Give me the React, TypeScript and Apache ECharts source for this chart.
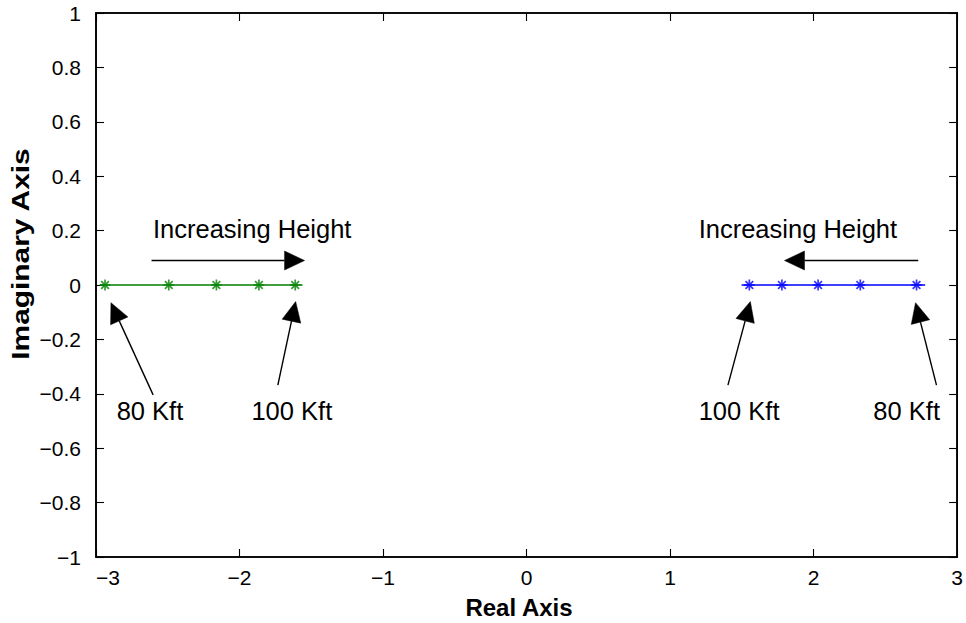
import React, { useEffect, useRef } from "react";
import * as echarts from "echarts";

// Axis ranges
const X_MIN = -3;
const X_MAX = 3;
const X_STEP = 1;
const Y_MIN = -1;
const Y_MAX = 1;
const Y_STEP = 0.2;

// Poles (real parts), imaginary part is zero
const greenPoles = [-2.937, -2.493, -2.161, -1.865, -1.612];
const bluePoles = [1.552, 1.779, 2.031, 2.325, 2.717];
const poleImag = 0;
// Extent of the traced loci lines
const greenTrace = [-2.972, -1.561];
const blueTrace = [1.498, 2.777];

// Annotation arrows: [tailRe, tailIm, tipRe, tipIm]
const arrowTailRe = [-2.613, 2.729, -2.602, -1.733, 1.403, 2.856];
const arrowTailIm = [0.09, 0.09, -0.404, -0.368, -0.368, -0.368];
const arrowTipRe = [-1.547, 1.797, -2.896, -1.609, 1.559, 2.71];
const arrowTipIm = [0.09, 0.09, -0.065, -0.061, -0.061, -0.065];

// Annotation texts (left anchored)
const annotationTexts = ["Increasing Height", "Increasing Height", "80 Kft", "100 Kft", "100 Kft", "80 Kft"];
const annotationRe = [-2.603, 1.199, -2.856, -1.917, 1.199, 2.416];
const annotationIm = [0.206, 0.206, -0.463, -0.463, -0.463, -0.463];

const FONT = "'Liberation Sans', Arial, Helvetica, sans-serif";
const ASTERISK = "path://M5,0 L5,10 M0,5 L10,5 M1.5,1.5 L8.5,8.5 M1.5,8.5 L8.5,1.5";

const fmt = (v: number) => {
  const r = Math.round(v * 10) / 10;
  return r < 0 ? "\u2212" + Math.abs(r) : String(r);
};

export default function App() {
  const ref = useRef<HTMLDivElement>(null);
  useEffect(() => {
    if (!ref.current) return;
    const chart = echarts.init(ref.current, null, { renderer: "svg" });

    const axisCommon = {
      type: "value" as const,
      axisLine: { show: true, onZero: false, lineStyle: { color: "#000", width: 1.6 } },
      axisTick: { show: true, inside: true, length: 8, lineStyle: { color: "#000", width: 1.1 } },
      splitLine: { show: false },
    };

    const arrows = arrowTailRe.map((_, i) => [arrowTailRe[i], arrowTailIm[i], arrowTipRe[i], arrowTipIm[i]]);
    const texts = annotationRe.map((_, i) => [annotationRe[i], annotationIm[i]]);

    chart.setOption({
      animation: false,
      backgroundColor: "#fff",
      grid: { left: 96, right: 7, top: 13, bottom: 66, show: true, borderColor: "#000", borderWidth: 1.6, backgroundColor: "transparent" },
      xAxis: [
        {
          ...axisCommon,
          min: X_MIN,
          max: X_MAX,
          interval: X_STEP,
          position: "bottom",
          axisLabel: { color: "#000", fontSize: 21, fontFamily: FONT, margin: 10, formatter: fmt, alignMinLabel: "left" },
        },
        {
          ...axisCommon,
          min: X_MIN,
          max: X_MAX,
          interval: X_STEP,
          position: "top",
          axisLabel: { show: false },
        },
      ],
      yAxis: [
        {
          ...axisCommon,
          min: Y_MIN,
          max: Y_MAX,
          interval: Y_STEP,
          position: "left",
          axisLabel: { color: "#000", fontSize: 21, fontFamily: FONT, margin: 15, formatter: fmt },
        },
        {
          ...axisCommon,
          min: Y_MIN,
          max: Y_MAX,
          interval: Y_STEP,
          position: "right",
          axisLabel: { show: false },
        },
      ],
      graphic: [
        {
          type: "text",
          x: 519,
          y: 607,
          style: { text: "Real Axis", fontSize: 24, fontWeight: "bold", fontFamily: FONT, fill: "#000", align: "center", verticalAlign: "middle" },
        },
        {
          type: "text",
          x: 21,
          y: 254,
          rotation: Math.PI / 2,
          scaleX: 1.3,
          style: { text: "Imaginary Axis", fontSize: 23, fontWeight: "bold", fontFamily: FONT, fill: "#000", align: "center", verticalAlign: "middle" },
        },
      ],
      series: [
        {
          type: "line",
          data: greenTrace.map((x) => [x, poleImag]),
          symbol: "none",
          lineStyle: { color: "#008000", width: 1.5 },
          silent: true,
        },
        {
          type: "line",
          data: blueTrace.map((x) => [x, poleImag]),
          symbol: "none",
          lineStyle: { color: "#0000ff", width: 1.5 },
          silent: true,
        },
        {
          type: "scatter",
          data: greenPoles.map((x) => [x, poleImag]),
          symbol: ASTERISK,
          symbolSize: 11,
          itemStyle: { color: "#008000", borderColor: "#008000", borderWidth: 1.7 },
        },
        {
          type: "scatter",
          data: bluePoles.map((x) => [x, poleImag]),
          symbol: ASTERISK,
          symbolSize: 11,
          itemStyle: { color: "#0000ff", borderColor: "#0000ff", borderWidth: 1.7 },
        },
        {
          type: "custom",
          data: arrows,
          encode: { x: [0, 2], y: [1, 3] },
          silent: true,
          renderItem: (params: any, api: any) => {
            const a = api.coord([api.value(0), api.value(1)]);
            const b = api.coord([api.value(2), api.value(3)]);
            const dx = b[0] - a[0];
            const dy = b[1] - a[1];
            const len = Math.hypot(dx, dy);
            const ux = dx / len;
            const uy = dy / len;
            const L = 20;
            const W = 9.5;
            const bx = b[0] - ux * L;
            const by = b[1] - uy * L;
            return {
              type: "group",
              children: [
                { type: "line", shape: { x1: a[0], y1: a[1], x2: bx, y2: by }, style: { stroke: "#000", lineWidth: 1.4 } },
                {
                  type: "polygon",
                  shape: { points: [[b[0], b[1]], [bx - uy * W, by + ux * W], [bx + uy * W, by - ux * W]] },
                  style: { fill: "#000", stroke: "#000", lineWidth: 0.5 },
                },
              ],
            };
          },
        },
        {
          type: "custom",
          data: texts,
          encode: { x: 0, y: 1 },
          silent: true,
          renderItem: (params: any, api: any) => {
            const p = api.coord([api.value(0), api.value(1)]);
            return {
              type: "text",
              x: p[0],
              y: p[1],
              style: {
                text: annotationTexts[params.dataIndex],
                fontSize: 25.5,
                fontFamily: FONT,
                fill: "#000",
                align: "left",
                verticalAlign: "middle",
              },
            };
          },
        },
      ],
    });
    return () => chart.dispose();
  }, []);

  return <div ref={ref} style={{ position: "absolute", left: 0, top: 0, width: 966, height: 623 }} />;
}
